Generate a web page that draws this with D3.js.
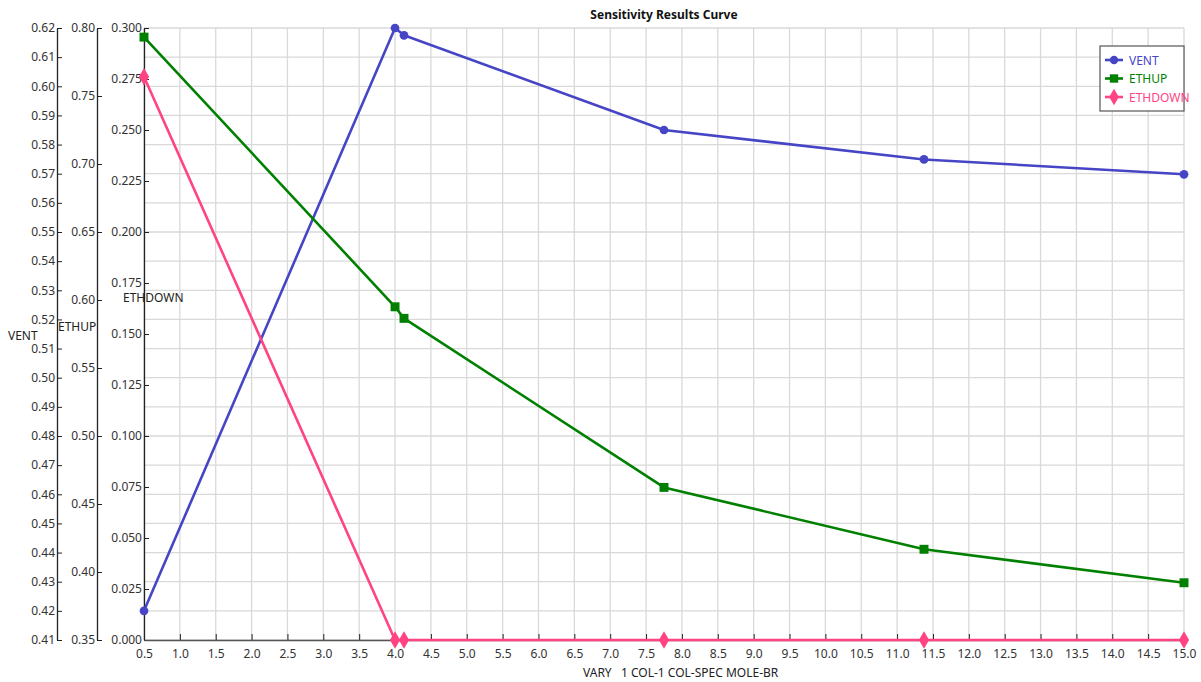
<!DOCTYPE html>
<html>
<head>
<meta charset="utf-8">
<script src="https://cdn.jsdelivr.net/npm/d3@7"></script>
<style>
  body { margin: 0; background: #fff; }
  svg { font-family: "Noto Sans", sans-serif; }
</style>
</head>
<body>
<svg id="chart" width="1201" height="682"></svg>
<script>
// values
const xValues = [0.5, 4.0, 4.125, 7.75, 11.375, 15.0];
const ventValues = [0.4200, 0.6200, 0.6175, 0.5850, 0.5749, 0.5698];
const ethupValues = [0.7933, 0.5950, 0.5865, 0.4622, 0.4167, 0.3921];
const ethdownValues = [0.2761, 0.0, 0.0, 0.0, 0.0, 0.0];

const seriesNames = ["VENT", "ETHUP", "ETHDOWN"];
const seriesColors = ["#4545c6", "#008000", "#ff4383"];
const seriesMarkers = ["circle", "square", "diamond"];

const xTicks = d3.range(0.5, 15.01, 0.5);
const ventTicks = d3.range(41, 63).map((d) => d / 100);
const ethupTicks = d3.range(35, 81, 5).map((d) => d / 100);
const ethdownTicks = d3.range(0, 301, 25).map((d) => d / 1000);

const title = "Sensitivity Results Curve";
const xLabel = "VARY   1 COL-1 COL-SPEC MOLE-BR";

const plot = { left: 144, right: 1184, top: 28, bottom: 640 };

const svg = d3.select("#chart");

const x = d3.scaleLinear().domain([0.5, 15]).range([plot.left, plot.right]);
const yVent = d3.scaleLinear().domain([0.41, 0.62]).range([plot.bottom, plot.top]);
const yEthup = d3.scaleLinear().domain([0.35, 0.8]).range([plot.bottom, plot.top]);
const yEthdown = d3.scaleLinear().domain([0, 0.3]).range([plot.bottom, plot.top]);

// grid (horizontal lines follow the VENT axis)
const grid = svg.append("g").attr("stroke", "#d9d9d9").attr("stroke-width", 1.3);
grid
  .selectAll("line.v")
  .data(xTicks)
  .enter()
  .append("line")
  .attr("x1", (d) => x(d))
  .attr("x2", (d) => x(d))
  .attr("y1", plot.top)
  .attr("y2", plot.bottom);
grid
  .selectAll("line.h")
  .data(ventTicks)
  .enter()
  .append("line")
  .attr("x1", plot.left)
  .attr("x2", plot.right)
  .attr("y1", (d) => yVent(d))
  .attr("y2", (d) => yVent(d));

function styleAxis(g) {
  g.selectAll("path").attr("stroke", "#222").attr("stroke-width", 1.3);
  g.selectAll("line").attr("stroke", "#222");
  g.selectAll("text")
    .attr("fill", "#333")
    .style("font-size", "12px")
    .style("font-family", "Noto Sans, sans-serif");
}

// y axes, ticks pointing right, labels on the left
const yAxes = [
  { scale: yVent, ticks: ventTicks, fmt: ".2f", at: 57 },
  { scale: yEthup, ticks: ethupTicks, fmt: ".2f", at: 97 },
  { scale: yEthdown, ticks: ethdownTicks, fmt: ".3f", at: plot.left }
];
yAxes.forEach((a) => {
  svg
    .append("g")
    .attr("transform", `translate(${a.at},0)`)
    .call(
      d3
        .axisLeft(a.scale)
        .tickValues(a.ticks)
        .tickFormat(d3.format(a.fmt))
        .tickSizeInner(-5)
        .tickSizeOuter(0)
        .tickPadding(2)
    )
    .call(styleAxis);
});

// x axis
svg
  .append("g")
  .attr("transform", `translate(0,${plot.bottom})`)
  .call(
    d3
      .axisBottom(x)
      .tickValues(xTicks)
      .tickFormat(d3.format(".1f"))
      .tickSizeInner(-6)
      .tickSizeOuter(0)
      .tickPadding(9)
  )
  .call(styleAxis)
  .select("path")
  .attr("stroke", "#555");

// axis titles
const axisTitles = [
  { text: "VENT", x: 8, y: 340 },
  { text: "ETHUP", x: 58, y: 331 },
  { text: "ETHDOWN", x: 123, y: 302 }
];
svg
  .selectAll("text.axis-title")
  .data(axisTitles)
  .enter()
  .append("text")
  .attr("x", (d) => d.x)
  .attr("y", (d) => d.y)
  .attr("fill", "#222")
  .style("font-size", "12px")
  .text((d) => d.text);

svg
  .append("text")
  .attr("x", (plot.left + plot.right) / 2)
  .attr("y", 19)
  .attr("text-anchor", "middle")
  .attr("font-weight", "bold")
  .attr("fill", "#111")
  .style("font-size", "12px")
  .text(title);

svg
  .append("text")
  .attr("x", 583)
  .attr("y", 677)
  .attr("fill", "#222")
  .style("font-size", "12px")
  .style("white-space", "pre")
  .text(xLabel);

// series
const series = [
  { values: ventValues, y: yVent },
  { values: ethupValues, y: yEthup },
  { values: ethdownValues, y: yEthdown }
];

const symbolOf = {
  circle: d3.symbol().type(d3.symbolCircle).size(60),
  square: d3.symbol().type(d3.symbolSquare).size(80),
  diamond: d3.symbol().type(d3.symbolDiamond).size(90)
};

series.forEach((s, i) => {
  const pts = xValues.map((xv, j) => [xv, s.values[j]]);
  svg
    .append("path")
    .datum(pts)
    .attr("fill", "none")
    .attr("stroke", seriesColors[i])
    .attr("stroke-width", 2.6)
    .attr("stroke-linejoin", "round")
    .attr(
      "d",
      d3
        .line()
        .x((d) => x(d[0]))
        .y((d) => s.y(d[1]))
    );
  svg
    .selectAll(null)
    .data(pts)
    .enter()
    .append("path")
    .attr("d", symbolOf[seriesMarkers[i]]())
    .attr("transform", (d) => `translate(${x(d[0])},${s.y(d[1])})`)
    .attr("fill", seriesColors[i]);
});

// legend
const legend = svg.append("g");
legend
  .append("rect")
  .attr("x", 1100)
  .attr("y", 46)
  .attr("width", 84)
  .attr("height", 65)
  .attr("fill", "#fff")
  .attr("stroke", "#555")
  .attr("stroke-width", 1.2);

const legendSymbol = {
  circle: d3.symbol().type(d3.symbolCircle).size(55),
  square: d3.symbol().type(d3.symbolSquare).size(70),
  diamond: d3.symbol().type(d3.symbolDiamond).size(80)
};

seriesNames.forEach((name, i) => {
  const ly = 60 + i * 18.5;
  legend
    .append("line")
    .attr("x1", 1105)
    .attr("x2", 1123)
    .attr("y1", ly)
    .attr("y2", ly)
    .attr("stroke", seriesColors[i])
    .attr("stroke-width", 2.6);
  legend
    .append("path")
    .attr("d", legendSymbol[seriesMarkers[i]]())
    .attr("transform", `translate(1114,${ly})`)
    .attr("fill", seriesColors[i]);
  legend
    .append("text")
    .attr("x", 1129)
    .attr("y", ly + 4.5)
    .attr("fill", seriesColors[i])
    .style("font-size", "12px")
    .text(name);
});
</script>
</body>
</html>
